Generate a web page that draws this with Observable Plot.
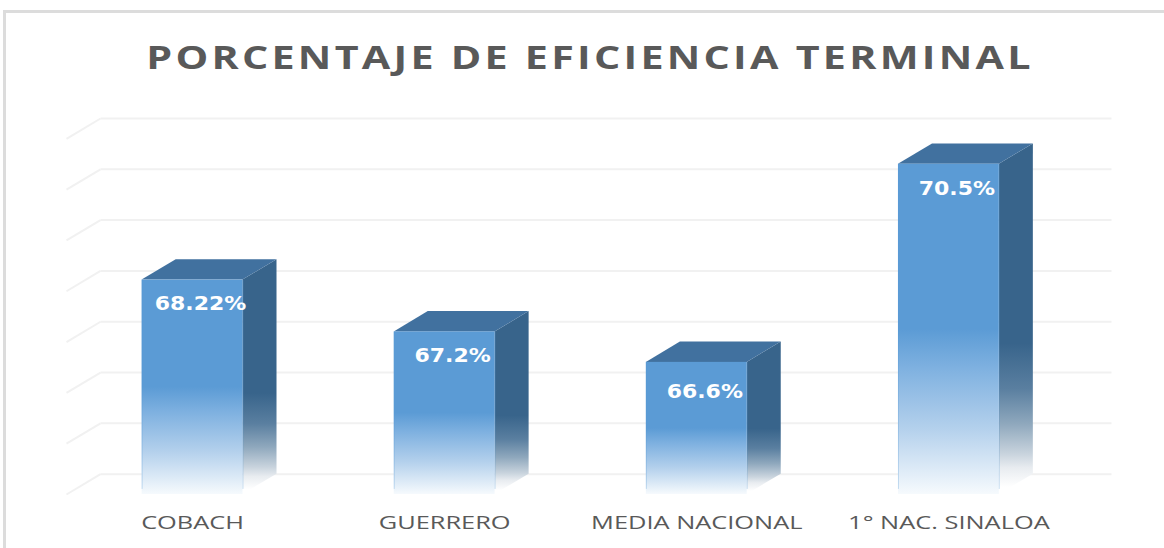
<!DOCTYPE html>
<html>
<head>
<meta charset="utf-8">
<script src="https://cdn.jsdelivr.net/npm/d3@7"></script>
<script src="https://cdn.jsdelivr.net/npm/@observablehq/plot@0.6"></script>
<style>
  html, body { margin: 0; padding: 0; background: #fff; }
  #wrap { position: relative; width: 1164px; height: 548px; overflow: hidden; }
  #frame { position: absolute; left: 3px; top: 10px; width: 1180px; height: 570px; border: 3px solid #dcdcdc; box-sizing: border-box; }
  #title { position: absolute; left: 0; top: 34px; width: 1180px; text-align: center; font: 700 33px "Open Sans", sans-serif; letter-spacing: 2.6px; color: #595959; white-space: nowrap; transform: scaleX(1.25); transform-origin: 590px 0; }
  svg { position: absolute; left: 0; top: 0; background: transparent !important; }
</style>
</head>
<body>
<div id="wrap">
  <div id="frame"></div>
  <div id="title">PORCENTAJE DE EFICIENCIA TERMINAL</div>
</div>
<script>
const categories = ["COBACH", "GUERRERO", "MEDIA NACIONAL", "1° NAC. SINALOA"];
const values = [68.22, 67.2, 66.6, 70.5];
const labels = ["68.22%", "67.2%", "66.6%", "70.5%"];
const gridLevels = [64, 65, 66, 67, 68, 69, 70, 71];

const floor = 64;
const halfBar = 0.2;       // half bar width, in category units
const depthX = 0.135;      // receding depth, in category units
const depthY = 0.4;        // receding depth, in value units
const gridLeft = -0.5, gridRight = 3.51;

const bars = values.map((value, i) => ({i, value, label: labels[i], name: categories[i]}));

const sideFace = bars.flatMap(b => [
  {name: b.name, x: b.i + halfBar, y1: floor, y2: b.value},
  {name: b.name, x: b.i + halfBar + depthX, y1: floor + depthY, y2: b.value + depthY}
]);
const topFace = bars.flatMap(b => [
  {name: b.name, y: b.value, x1: b.i - halfBar, x2: b.i + halfBar},
  {name: b.name, y: b.value + depthY, x1: b.i - halfBar + depthX, x2: b.i + halfBar + depthX}
]);
const edges = bars.flatMap(b => [{x: b.i - halfBar, v: b.value}, {x: b.i + halfBar, v: b.value}]);

function gradients() {
  const svg = d3.create("svg:g");
  const defs = svg.append("defs");
  const front = defs.append("linearGradient").attr("id", "frontGrad")
    .attr("x1", 0).attr("y1", 0).attr("x2", 0).attr("y2", 1);
  [[0, "#5b9bd5"], [0.5, "#5b9bd5"], [0.62, "#7fb1e0"], [0.8, "#b3d0ec"], [1, "#f6fafd"]]
    .forEach(([o, c]) => front.append("stop").attr("offset", o).attr("stop-color", c));
  const side = defs.append("linearGradient").attr("id", "sideGrad")
    .attr("x1", 0).attr("y1", 0).attr("x2", 0).attr("y2", 1);
  [[0, "#38648b"], [0.57, "#38648b"], [0.7, "#5a7fa0"], [0.8, "#8fa8bd"], [0.885, "#c8d3dd"], [0.925, "#e8ecf0"], [0.98, "#ffffff"]]
    .forEach(([o, c]) => side.append("stop").attr("offset", o).attr("stop-color", c));
  return svg.node();
}

const labelStyle = {x: "i", y: "value", text: "label", dx: 8, fill: "white", fontSize: 20, fontWeight: 700, fontFamily: "'DejaVu Sans'"};

const chart = Plot.plot({
  width: 1164,
  height: 548,
  marginLeft: 66,
  marginRight: 53,
  marginTop: 118,
  marginBottom: 54,
  style: {background: "transparent", fontFamily: "'Open Sans', sans-serif"},
  x: {domain: [gridLeft, 3.645], axis: null},
  y: {domain: [floor, 71.4], axis: null},
  marks: [
    gradients,
    // back-wall grid
    Plot.link(gridLevels, {x1: gridLeft + depthX, x2: gridRight + depthX, y1: d => d + depthY, y2: d => d + depthY, stroke: "#f1f1f1", strokeWidth: 2}),
    // side-wall grid
    Plot.link(gridLevels, {x1: gridLeft, x2: gridLeft + depthX, y1: d => d, y2: d => d + depthY, stroke: "#f1f1f1", strokeWidth: 2}),
    Plot.areaY(sideFace, {x: "x", y1: "y1", y2: "y2", z: "name", fill: "url(#sideGrad)"}),
    Plot.areaX(topFace, {y: "y", x1: "x1", x2: "x2", z: "name", fill: "#41719f"}),
    Plot.rect(bars, {x1: d => d.i - halfBar, x2: d => d.i + halfBar, y1: floor, y2: "value", fill: "url(#frontGrad)"}),
    Plot.ruleX(edges, {x: "x", y1: floor + 0.1, y2: "v", stroke: "#5b9bd5", strokeOpacity: 0.3, strokeWidth: 1}),
    Plot.text(bars.filter(d => d.value !== 66.6), {...labelStyle, dy: 24, className: "bar-label"}),
    Plot.text(bars.filter(d => d.value === 66.6), {...labelStyle, dy: 29, className: "bar-label"}),
    Plot.axisX({ticks: d3.range(categories.length), tickFormat: i => categories[i], tickSize: 0, tickPadding: 22, anchor: "bottom", fontSize: 18, color: "#595959", label: null, className: "cat-label"})
  ]
});
// the reference is stretched horizontally: widen the glyphs in place
const widen = (selector, k) => d3.select(chart).selectAll(selector).attr("transform", function () {
  return (this.getAttribute("transform") || "") + ` scale(${k},1)`;
});
widen(".bar-label text", 1.1);
widen(".cat-label text", 1.41);
document.getElementById("wrap").appendChild(chart);
</script>
</body>
</html>
